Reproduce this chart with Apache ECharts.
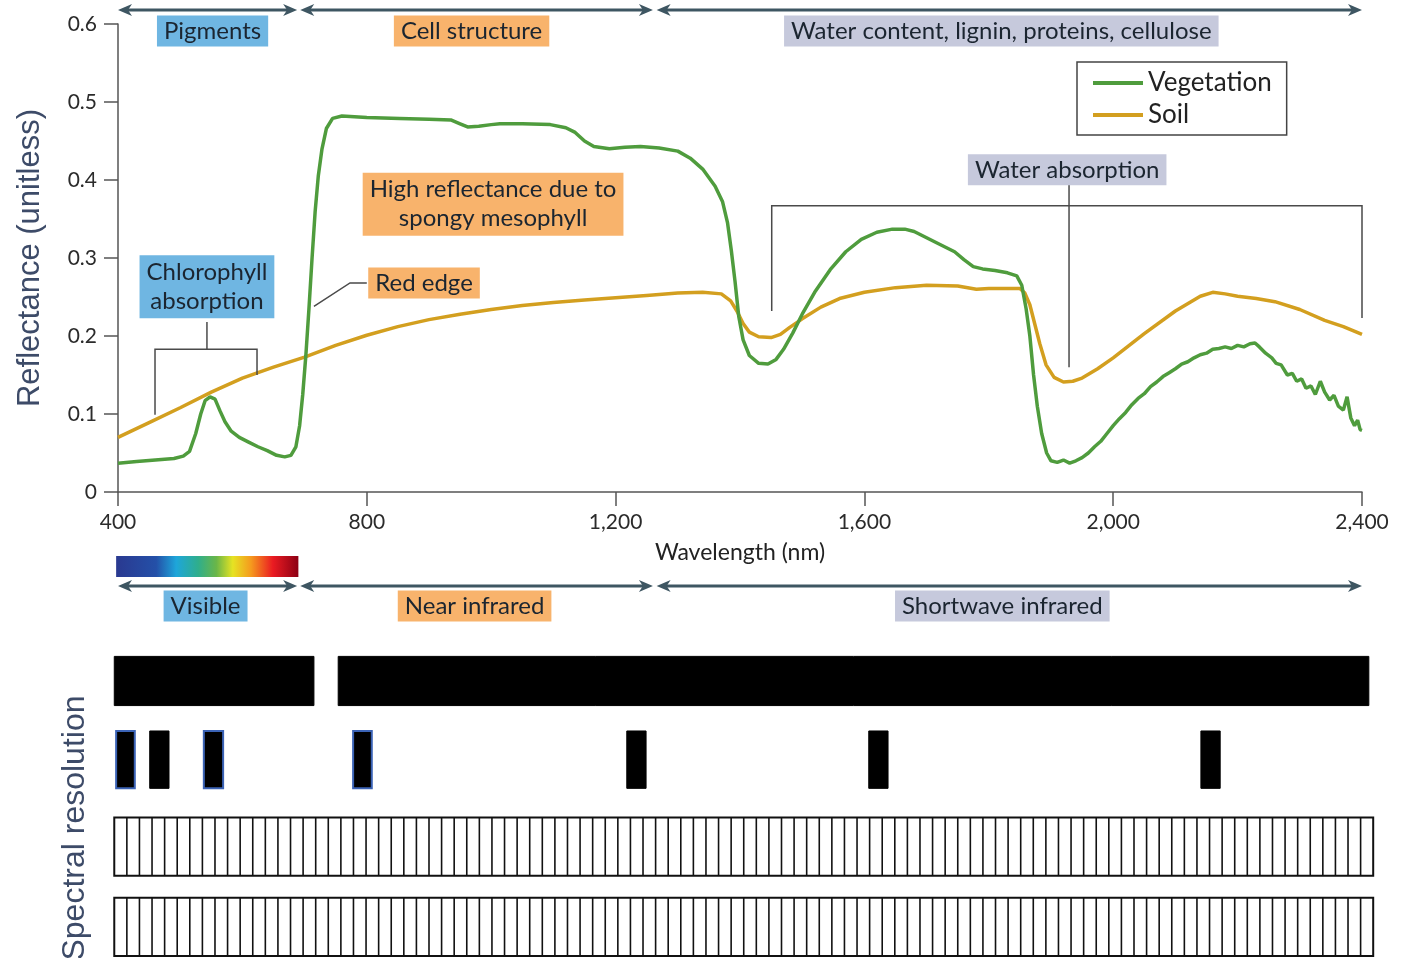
<!DOCTYPE html>
<html>
<head>
<meta charset="utf-8">
<script src="https://cdn.jsdelivr.net/npm/echarts@6/dist/echarts.min.js"></script>
<style>
  html, body { margin: 0; padding: 0; background: #fff; }
  #main { width: 1416px; height: 958px; }
</style>
</head>
<body>
<div id="main"></div>
<script>
// reflectance spectra, [wavelength nm, reflectance]
const vegetation = [
  [400, 0.037], [430, 0.039], [460, 0.041], [490, 0.043], [505, 0.046], [515, 0.052], [525, 0.075],
  [533, 0.100], [540, 0.117], [548, 0.122], [556, 0.119], [564, 0.104], [572, 0.090], [582, 0.078],
  [595, 0.070], [610, 0.064], [625, 0.058], [640, 0.053], [655, 0.047], [668, 0.045], [678, 0.047],
  [686, 0.058], [692, 0.085], [697, 0.125], [702, 0.175], [707, 0.235], [712, 0.300], [717, 0.360],
  [722, 0.405], [728, 0.440], [735, 0.466], [745, 0.479], [760, 0.482], [800, 0.480], [853, 0.479],
  [900, 0.478], [935, 0.477], [950, 0.472], [962, 0.468], [980, 0.469], [1000, 0.471], [1014, 0.472],
  [1050, 0.472], [1095, 0.471], [1120, 0.467], [1135, 0.461], [1150, 0.450], [1165, 0.443],
  [1190, 0.440], [1215, 0.442], [1240, 0.443], [1270, 0.441], [1300, 0.437], [1320, 0.428],
  [1340, 0.414], [1360, 0.392], [1372, 0.372], [1380, 0.345], [1386, 0.310], [1392, 0.270],
  [1398, 0.225], [1405, 0.195], [1415, 0.175], [1430, 0.165], [1445, 0.164], [1458, 0.170],
  [1470, 0.183], [1485, 0.204], [1500, 0.228], [1520, 0.256], [1545, 0.285], [1570, 0.308],
  [1595, 0.324], [1620, 0.333], [1645, 0.337], [1665, 0.337], [1680, 0.334], [1700, 0.326],
  [1720, 0.318], [1745, 0.308], [1760, 0.298], [1775, 0.289], [1790, 0.286], [1810, 0.284],
  [1830, 0.281], [1845, 0.277], [1853, 0.265], [1860, 0.235], [1866, 0.200], [1872, 0.150],
  [1878, 0.110], [1885, 0.075], [1893, 0.050], [1900, 0.040], [1910, 0.038], [1920, 0.041],
  [1930, 0.037], [1940, 0.040], [1950, 0.044], [1960, 0.050], [1970, 0.058], [1980, 0.065],
  [1990, 0.075], [2000, 0.085], [2010, 0.094], [2020, 0.102], [2030, 0.112], [2040, 0.120],
  [2050, 0.126], [2060, 0.135], [2070, 0.141], [2080, 0.148], [2090, 0.153], [2100, 0.158],
  [2110, 0.164], [2120, 0.167], [2130, 0.172], [2140, 0.176], [2150, 0.178], [2160, 0.183],
  [2170, 0.184], [2180, 0.186], [2190, 0.184], [2200, 0.188], [2210, 0.186], [2220, 0.190],
  [2228, 0.191], [2235, 0.186], [2245, 0.178], [2255, 0.172], [2262, 0.165], [2270, 0.163],
  [2280, 0.150], [2288, 0.152], [2295, 0.142], [2303, 0.145], [2310, 0.133], [2318, 0.136],
  [2325, 0.125], [2333, 0.142], [2340, 0.128], [2348, 0.118], [2355, 0.124], [2362, 0.110],
  [2370, 0.105], [2376, 0.122], [2382, 0.095], [2388, 0.085], [2393, 0.092], [2397, 0.080],
  [2400, 0.079]
]
const soil = [
  [400, 0.070], [450, 0.089], [500, 0.108], [550, 0.128], [600, 0.146], [650, 0.160], [700, 0.173],
  [750, 0.188], [800, 0.201], [850, 0.212], [900, 0.221], [950, 0.228], [1000, 0.234], [1050, 0.239],
  [1100, 0.243], [1150, 0.246], [1200, 0.249], [1250, 0.252], [1300, 0.255], [1340, 0.256],
  [1370, 0.254], [1385, 0.245], [1395, 0.232], [1405, 0.216], [1415, 0.205], [1430, 0.199],
  [1450, 0.198], [1465, 0.202], [1480, 0.211], [1500, 0.222], [1530, 0.237], [1560, 0.248],
  [1600, 0.256], [1650, 0.262], [1700, 0.265], [1750, 0.264], [1780, 0.260], [1800, 0.261],
  [1850, 0.261], [1858, 0.255], [1866, 0.240], [1874, 0.215], [1882, 0.190], [1892, 0.163],
  [1905, 0.147], [1920, 0.141], [1935, 0.142], [1950, 0.146], [1975, 0.158], [2000, 0.172],
  [2050, 0.203], [2100, 0.232], [2140, 0.251], [2160, 0.256], [2180, 0.254], [2200, 0.251],
  [2230, 0.248], [2260, 0.244], [2300, 0.234], [2340, 0.220], [2370, 0.212], [2400, 0.202]
]

// spectral regions (nm)
const regions = [[400, 688], [693, 1260], [1266, 2400]]
const regionTopLabels = ['Pigments', 'Cell structure', 'Water content, lignin, proteins, cellulose']
const regionBottomLabels = ['Visible', 'Near infrared', 'Shortwave infrared']
const visibleBar = [397, 690]

// sensor bands: [start nm, end nm, row]
const broadBands = [[394, 715, 0.5], [754, 2411, 0.5]]
const multiBands = [[397, 427, 1.46], [451, 482, 1.46], [538, 569, 1.46], [778, 808, 1.46], [1218, 1249, 1.46], [1607, 1638, 1.46], [2141, 2172, 1.46]]
const multiBlueEdge = [true, false, true, true, false, false, false]
const hyperRows = [[394, 2418, 2.52], [394, 2418, 3.5]]
const hyperBandCount = 100

const GREEN = '#4f9c3d'
const GOLD = '#d39f1f'
const BLUE_BG = '#6fb6e2'
const ORANGE_BG = '#f8b36c'
const GREY_BG = '#c6c9dc'
const ARROW = '#3e5662'
const FONT = 'Lato'

const chart = echarts.init(document.getElementById('main'))

// one row unit of the lower panel is about 82 px
function bandRect(frac, blueEdges) {
  return function (params, api) {
    const s = api.coord([api.value(0), api.value(2)])
    const e = api.coord([api.value(1), api.value(2)])
    const h = api.size([0, 1])[1] * frac
    const blue = blueEdges ? blueEdges[params.dataIndex] : false
    return {
      type: 'rect',
      shape: { x: s[0], y: s[1] - h / 2, width: e[0] - s[0], height: h },
      style: { fill: '#000', stroke: blue ? '#3b63b6' : '#000', lineWidth: blue ? 2 : 1 }
    }
  }
}

const option = {
  animation: false,
  grid: [
    { left: 118, right: 54, top: 24, height: 468 },
    { left: 118, right: 54, top: 640, height: 318 }
  ],
  xAxis: [
    {
      gridIndex: 0, type: 'value', min: 400, max: 2400, interval: 400,
      name: 'Wavelength (nm)', nameLocation: 'middle', nameGap: 49,
      nameTextStyle: { fontFamily: FONT, fontSize: 23, color: '#222' },
      axisLine: { lineStyle: { color: '#555', width: 1.5 } },
      axisTick: { length: 14, lineStyle: { color: '#555', width: 1.5 } },
      axisLabel: {
        fontFamily: FONT, fontSize: 21, color: '#2b2b2b', margin: 20,
        formatter: v => v.toLocaleString('en-US')
      },
      splitLine: { show: false }
    },
    { gridIndex: 1, type: 'value', min: 400, max: 2400, show: false }
  ],
  yAxis: [
    {
      gridIndex: 0, type: 'value', min: 0, max: 0.6, interval: 0.1,
      name: 'Reflectance (unitless)', nameLocation: 'middle', nameGap: 72,
      nameTextStyle: { fontFamily: 'Liberation Sans', fontSize: 31, color: '#3d4b68' },
      axisLine: { show: true, lineStyle: { color: '#555', width: 1.5 } },
      axisTick: { show: true, length: 14, lineStyle: { color: '#555', width: 1.5 } },
      axisLabel: {
        fontFamily: FONT, fontSize: 21, color: '#2b2b2b', margin: 21,
        formatter: v => (v === 0 ? '0' : v.toFixed(1))
      },
      splitLine: { show: false }
    },
    { gridIndex: 1, type: 'value', min: 0, max: 3.88, inverse: true, show: false }
  ],
  legend: {
    orient: 'vertical', left: 1077, top: 62,
    data: ['Vegetation', 'Soil'],
    icon: 'rect', itemWidth: 50, itemHeight: 4, itemGap: 6,
    padding: [8, 15, 7, 16],
    borderColor: '#444', borderWidth: 1.5,
    textStyle: { fontFamily: FONT, fontSize: 26, color: '#222', lineHeight: 24 }
  },
  series: [
    {
      name: 'Vegetation', type: 'line', xAxisIndex: 0, yAxisIndex: 0,
      data: vegetation, showSymbol: false, z: 4,
      lineStyle: { color: GREEN, width: 3.5 }, itemStyle: { color: GREEN }
    },
    {
      name: 'Soil', type: 'line', xAxisIndex: 0, yAxisIndex: 0,
      data: soil, showSymbol: false, z: 3,
      lineStyle: { color: GOLD, width: 3.5 }, itemStyle: { color: GOLD }
    },
    {
      type: 'custom', xAxisIndex: 1, yAxisIndex: 1, clip: false,
      data: broadBands, encode: { x: [0, 1], y: 2 },
      renderItem: bandRect(0.6)
    },
    {
      type: 'custom', xAxisIndex: 1, yAxisIndex: 1, clip: false,
      data: multiBands, encode: { x: [0, 1], y: 2 },
      renderItem: bandRect(0.7, multiBlueEdge)
    },
    {
      type: 'custom', xAxisIndex: 1, yAxisIndex: 1, clip: false,
      data: hyperRows, encode: { x: [0, 1], y: 2 },
      renderItem: function (params, api) {
        const s = api.coord([api.value(0), api.value(2)])
        const e = api.coord([api.value(1), api.value(2)])
        const h = api.size([0, 1])[1] * 0.71
        const y0 = s[1] - h / 2
        const w = e[0] - s[0]
        const children = [{
          type: 'rect',
          shape: { x: s[0], y: y0, width: w, height: h },
          style: { fill: '#fff', stroke: '#111', lineWidth: 2 }
        }]
        for (let i = 1; i < hyperBandCount; i++) {
          const x = s[0] + w * i / hyperBandCount
          children.push({
            type: 'line',
            shape: { x1: x, y1: y0, x2: x, y2: y0 + h },
            style: { stroke: '#111', lineWidth: 1.6 }
          })
        }
        return { type: 'group', children: children }
      }
    }
  ]
}

chart.setOption(option)

// ---- annotations, placed through the chart's own scales ----
const px = wl => chart.convertToPixel({ xAxisIndex: 0 }, wl)
const pt = (wl, r) => chart.convertToPixel({ gridIndex: 0 }, [wl, r])

function arrow(x1, x2, y) {
  return [
    { type: 'line', shape: { x1: x1 + 8, y1: y, x2: x2 - 8, y2: y }, style: { stroke: ARROW, lineWidth: 3 } },
    { type: 'polygon', shape: { points: [[x1, y], [x1 + 14, y - 6], [x1 + 10, y], [x1 + 14, y + 6]] }, style: { fill: ARROW } },
    { type: 'polygon', shape: { points: [[x2, y], [x2 - 14, y - 6], [x2 - 10, y], [x2 - 14, y + 6]] }, style: { fill: ARROW } }
  ]
}

function box(text, x, y, bg, lh) {
  return {
    type: 'text', x: x, y: y, z: 20,
    style: {
      text: text, font: '24px ' + FONT, fill: '#1b2530',
      backgroundColor: bg, padding: [3, 7, 2, 7], lineHeight: lh || 26,
      align: 'center', verticalAlign: 'middle'
    }
  }
}

function path(points) {
  return {
    type: 'polyline', z: 10,
    shape: { points: points },
    style: { stroke: '#4a4a4a', lineWidth: 1.5, fill: null }
  }
}

const bgs = [BLUE_BG, ORANGE_BG, GREY_BG]
const labelShift = [5, -5, -8]
let g = []
regions.forEach((r, i) => {
  const a = px(r[0]), b = px(r[1])
  g = g.concat(arrow(a, b, 10), arrow(a, b, 586))
  g.push(box(regionTopLabels[i], (a + b) / 2 + labelShift[i], 31, bgs[i]))
  g.push(box(regionBottomLabels[i], (a + b) / 2 + (i === 2 ? -7 : -2), 606, bgs[i]))
})

// visible colour bar
g.push({
  type: 'rect', z: 5,
  shape: { x: px(visibleBar[0]), y: 556, width: px(visibleBar[1]) - px(visibleBar[0]), height: 21 },
  style: {
    fill: new echarts.graphic.LinearGradient(0, 0, 1, 0, [
      { offset: 0, color: '#2a3990' },
      { offset: 0.22, color: '#2450a8' },
      { offset: 0.33, color: '#1ea6da' },
      { offset: 0.45, color: '#2fae8c' },
      { offset: 0.55, color: '#6ab648' },
      { offset: 0.64, color: '#e6e323' },
      { offset: 0.74, color: '#f59a1e' },
      { offset: 0.86, color: '#ea1b22' },
      { offset: 1, color: '#8c0014' }
    ])
  }
})

// chlorophyll absorption bracket
g.push(path([pt(459.5, 0.099), pt(459.5, 0.183), pt(623.5, 0.183), pt(623.5, 0.150)]))
g.push(path([pt(543, 0.183), pt(543, 0.218)]))
const chl = pt(543, 0.263)
g.push(box('Chlorophyll\nabsorption', chl[0], chl[1], BLUE_BG, 29))

// red edge
g.push(path([pt(715, 0.238), pt(773, 0.268), pt(800, 0.268)]))
const re = pt(892, 0.268)
g.push(box('Red edge', re[0], re[1], ORANGE_BG))

// spongy mesophyll
const hr = pt(1003, 0.369)
g.push(box('High reflectance due to\nspongy mesophyll', hr[0], hr[1], ORANGE_BG, 29))

// water absorption bracket
g.push(path([pt(1451, 0.232), pt(1451, 0.367), pt(2400, 0.367), pt(2400, 0.223)]))
g.push(path([pt(1929, 0.413), pt(1929, 0.160)]))
const wa = pt(1926, 0.413)
g.push(box('Water absorption', wa[0], wa[1], GREY_BG))

// lower panel title
g.push({
  type: 'text', x: 75, y: 828, rotation: Math.PI / 2,
  style: {
    text: 'Spectral resolution', font: '32px "Liberation Sans"', fill: '#3d4b68',
    align: 'center', verticalAlign: 'middle'
  }
})

chart.setOption({ graphic: g })
</script>
</body>
</html>
